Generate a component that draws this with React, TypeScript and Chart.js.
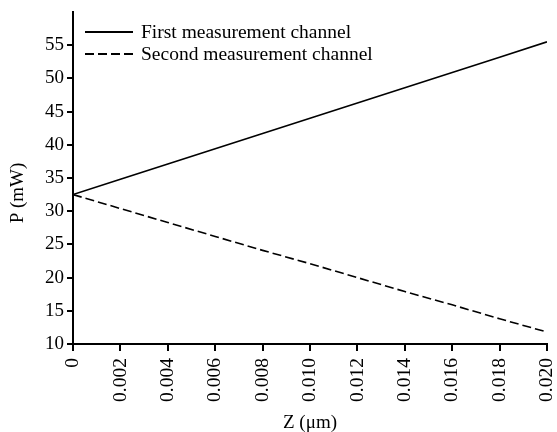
import React, { useEffect, useRef } from "react";
import { Chart, registerables } from "chart.js";

Chart.register(...registerables);

const zValues = [0, 0.002, 0.004, 0.006, 0.008, 0.01, 0.012, 0.014, 0.016, 0.018, 0.02];
const firstChannel = [32.5, 34.8, 37.1, 39.4, 41.7, 44.0, 46.3, 48.6, 50.9, 53.2, 55.5];
const secondChannel = [32.5, 30.4, 28.3, 26.2, 24.1, 22.1, 20.0, 17.9, 15.9, 13.8, 11.8];
const seriesNames = ["First measurement channel", "Second measurement channel"];
const yTickValues = [10, 15, 20, 25, 30, 35, 40, 45, 50, 55];
const xTitle = "Z (μm)";
const yTitle = "P (mW)";

const FONT = "'Liberation Serif', 'Times New Roman', serif";
const DASH = [9, 4];

const overlayPlugin = {
  id: "overlay",
  afterDraw(chart: any) {
    const ctx = chart.ctx as CanvasRenderingContext2D;
    const area = chart.chartArea;
    ctx.save();
    // legend
    const lx0 = area.left + 12;
    const lx1 = lx0 + 48;
    const rows = [area.top + 20, area.top + 42];
    ctx.strokeStyle = "#000";
    ctx.lineWidth = 1.8;
    ctx.fillStyle = "#000";
    ctx.font = `19.5px ${FONT}`;
    ctx.textBaseline = "middle";
    ctx.textAlign = "left";
    rows.forEach((y, i) => {
      ctx.beginPath();
      ctx.setLineDash(i === 0 ? [] : DASH);
      ctx.moveTo(lx0, y);
      ctx.lineTo(lx1, y);
      ctx.stroke();
      ctx.fillText(seriesNames[i], lx1 + 8, y + 1);
    });
    ctx.setLineDash([]);
    // axis titles
    ctx.font = `19px ${FONT}`;
    ctx.textAlign = "center";
    ctx.textBaseline = "middle";
    ctx.fillText(xTitle, (area.left + area.right) / 2, 423);
    ctx.translate(18, 193);
    ctx.rotate(-Math.PI / 2);
    ctx.fillText(yTitle, 0, 0);
    ctx.restore();
  },
};

export default function App() {
  const ref = useRef<HTMLCanvasElement | null>(null);
  useEffect(() => {
    if (!ref.current) return;
    const chart = new Chart(ref.current, {
      type: "line",
      data: {
        datasets: [
          {
            label: seriesNames[0],
            data: zValues.map((z, i) => ({ x: z, y: firstChannel[i] })),
            borderColor: "#000",
            borderWidth: 1.6,
            pointRadius: 0,
            fill: false,
            tension: 0,
          },
          {
            label: seriesNames[1],
            data: zValues.map((z, i) => ({ x: z, y: secondChannel[i] })),
            borderColor: "#000",
            borderWidth: 1.6,
            borderDash: DASH,
            pointRadius: 0,
            fill: false,
            tension: 0,
          },
        ],
      },
      options: {
        responsive: false,
        animation: false,
        layout: { padding: { left: 0, top: 12, right: 10, bottom: 0 } },
        plugins: { legend: { display: false }, tooltip: { enabled: false } },
        scales: {
          x: {
            type: "linear",
            min: 0,
            max: 0.02,
            afterFit: (s: any) => {
              s.height = 88;
              s.paddingLeft = 0;
              s.paddingRight = 0;
            },
            afterBuildTicks: (s: any) => {
              s.ticks = zValues.map((v) => ({ value: v }));
            },
            ticks: {
              autoSkip: false,
              maxRotation: 90,
              minRotation: 90,
              padding: 7,
              color: "#000",
              font: { family: FONT, size: 19.5 },
              callback: (v: any) => (Number(v) === 0 ? "0" : Number(v).toFixed(3)),
            },
            grid: { drawOnChartArea: false, color: "#000", lineWidth: 2, tickLength: 7 },
            border: { color: "#000", width: 2 },
          },
          y: {
            type: "linear",
            min: 10,
            max: 60,
            afterFit: (s: any) => {
              s.width = 73;
              s.paddingTop = 0;
              s.paddingBottom = 0;
            },
            afterBuildTicks: (s: any) => {
              s.ticks = yTickValues.map((v) => ({ value: v }));
            },
            ticks: {
              padding: 3,
              color: "#000",
              font: { family: FONT, size: 19 },
            },
            grid: { drawOnChartArea: false, color: "#000", lineWidth: 2, tickLength: 6 },
            border: { color: "#000", width: 2 },
          },
        },
      },
      plugins: [overlayPlugin],
    });
    return () => chart.destroy();
  }, []);
  return (
    <div style={{ position: "absolute", left: 0, top: 0, width: 557, height: 432, background: "#fff" }}>
      <canvas ref={ref} width={557} height={432} />
    </div>
  );
}
